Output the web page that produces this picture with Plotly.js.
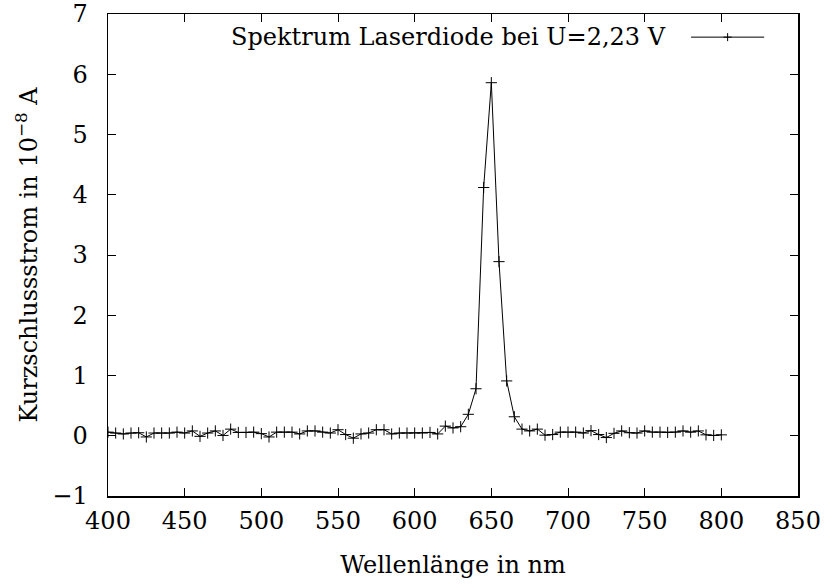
<!DOCTYPE html>
<html>
<head>
<meta charset="utf-8">
<script src="https://cdn.plot.ly/plotly-3.0.1.min.js"></script>
<style>html,body{margin:0;padding:0;background:#fff;}#chart{width:827px;height:585px;}</style>
</head>
<body>
<div id="chart"></div>
<script>
const wavelength = [400,405,410,415,420,425,430,435,440,445,450,455,460,465,470,475,480,485,490,495,
  500,505,510,515,520,525,530,535,540,545,550,555,560,565,570,575,580,585,590,595,
  600,605,610,615,620,625,630,635,640,645,650,655,660,665,670,675,680,685,690,695,
  700,705,710,715,720,725,730,735,740,745,750,755,760,765,770,775,780,785,790,795,800];
const current = [0.06,0.045,0.03,0.045,0.05,-0.02,0.045,0.045,0.045,0.06,0.045,0.08,-0.01,0.045,0.08,0.005,0.11,0.055,0.055,0.06,
  0.035,-0.02,0.06,0.06,0.06,0.03,0.08,0.08,0.06,0.045,0.1,0.02,-0.04,0.03,0.045,0.1,0.1,0.03,0.045,0.045,
  0.045,0.045,0.055,0.03,0.16,0.13,0.15,0.356,0.78,4.12,5.86,2.89,0.91,0.315,0.11,0.08,0.11,0.01,0.02,0.06,
  0.06,0.06,0.045,0.085,0.02,-0.03,0.04,0.08,0.05,0.045,0.08,0.06,0.06,0.055,0.06,0.08,0.06,0.08,0.015,0.005,0.015];
const seriesName = "Spektrum Laserdiode bei U=2,23 V";
const xTitle = "Wellenlänge in nm";
const yTitle = "Kurzschlussstrom in 10<sup>−8</sup> A";

const FONT = "'DejaVu Serif', serif";
const FS = 24;

const trace = {
  x: wavelength, y: current, type: "scatter", mode: "lines+markers",
  name: seriesName,
  line: {color: "#000", width: 1},
  marker: {symbol: "cross-thin-open", size: 8, color: "#000", line: {color: "#000", width: 1}},
  showlegend: false
};

// legend sample (gnuplot style: text left, sample right)
const lx0 = 0.845, lx1 = 0.951, ly = 0.952, mx = 0.898;
const layout = {
  width: 827, height: 585,
  margin: {l: 108, r: 29, t: 14, b: 89},
  paper_bgcolor: "#fff", plot_bgcolor: "#fff",
  font: {family: FONT, size: FS, color: "#000"},
  showlegend: false,
  xaxis: {
    range: [400, 850], dtick: 50, tick0: 400,
    showline: true, linecolor: "#000", linewidth: 1.5, mirror: "allticks",
    ticks: "inside", ticklen: 8, tickwidth: 1, tickcolor: "#000",
    showgrid: false, zeroline: false, ticklabelstandoff: 3,
    tickfont: {family: FONT, size: FS, color: "#000"},
    title: {text: xTitle, font: {family: FONT, size: FS, color: "#000"}, standoff: 22}
  },
  yaxis: {
    range: [-1, 7], dtick: 1, tick0: 0,
    showline: true, linecolor: "#000", linewidth: 1.5, mirror: "allticks",
    ticks: "inside", ticklen: 8, tickwidth: 1, tickcolor: "#000",
    showgrid: false, zeroline: false, ticklabelstandoff: 14,
    tickfont: {family: FONT, size: FS, color: "#000"},
    title: {text: yTitle, font: {family: FONT, size: FS, color: "#000"}, standoff: 8}
  },
  annotations: [{
    xref: "paper", yref: "paper", x: 0.812, y: ly, xanchor: "right", yanchor: "middle",
    text: seriesName, showarrow: false, font: {family: FONT, size: FS, color: "#000"}
  }],
  shapes: [
    {type: "line", xref: "paper", yref: "paper", x0: lx0, x1: lx1, y0: ly, y1: ly, line: {color: "#000", width: 1}},
    {type: "line", xref: "paper", yref: "paper", x0: mx - 0.0058, x1: mx + 0.0058, y0: ly, y1: ly, line: {color: "#000", width: 1}},
    {type: "line", xref: "paper", yref: "paper", x0: mx, x1: mx, y0: ly - 0.0083, y1: ly + 0.0083, line: {color: "#000", width: 1}}
  ]
};
Plotly.newPlot("chart", [trace], layout, {displayModeBar: false, staticPlot: true});
</script>
</body>
</html>
